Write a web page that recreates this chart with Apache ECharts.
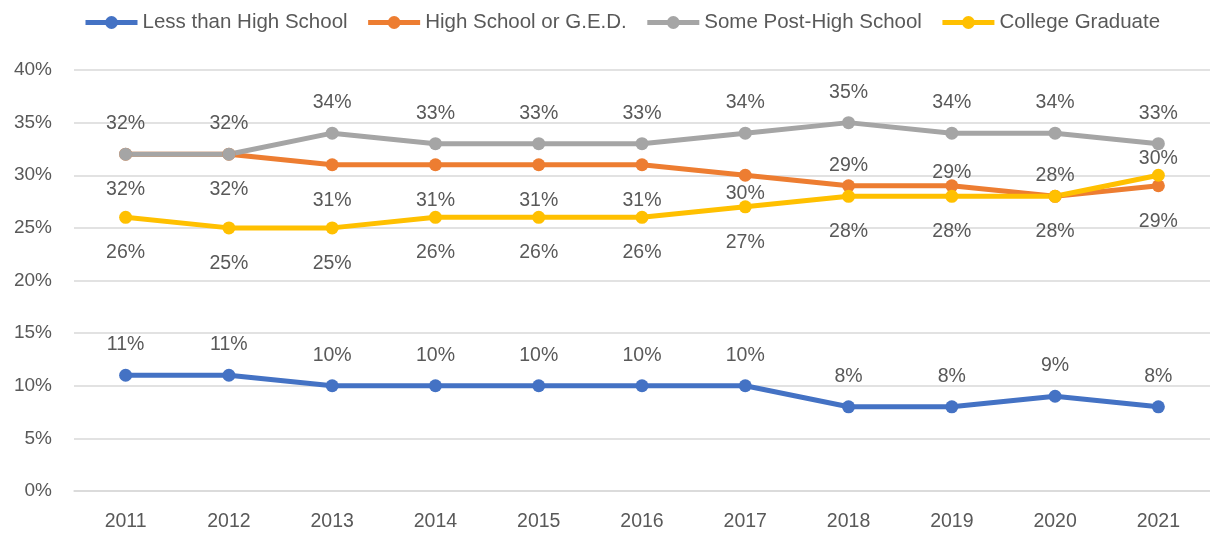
<!DOCTYPE html>
<html>
<head>
<meta charset="utf-8">
<script src="https://cdn.jsdelivr.net/npm/echarts@6/dist/echarts.min.js"></script>
<style>
  html, body { margin: 0; padding: 0; background: #fff; }
  #main { width: 1210px; height: 533px; }
</style>
</head>
<body>
<div id="main"></div>
<script>
// data
const years = ['2011', '2012', '2013', '2014', '2015', '2016', '2017', '2018', '2019', '2020', '2021'];
const lessThanHS = [11, 11, 10, 10, 10, 10, 10, 8, 8, 9, 8];
const hsGed = [32, 32, 31, 31, 31, 31, 30, 29, 29, 28, 29];
const somePostHS = [32, 32, 34, 33, 33, 33, 34, 35, 34, 34, 33];
const collegeGrad = [26, 25, 25, 26, 26, 26, 27, 28, 28, 28, 30];

const textColor = '#595959';
const font = 'Liberation Sans';

// labels above the point unless placed otherwise
function withLabels(values, pos, tweaks) {
  return values.map((v, i) => {
    const t = (tweaks && tweaks[i]) || {};
    return {
      value: v,
      label: {
        position: t.position || pos,
        distance: t.distance !== undefined ? t.distance : (pos === 'top' ? 14 : 19)
      }
    };
  });
}

function makeSeries(name, color, data) {
  return {
    name: name,
    type: 'line',
    data: data,
    symbol: 'circle',
    symbolSize: 13,
    lineStyle: { color: color, width: 5 },
    itemStyle: { color: color },
    label: {
      show: true,
      color: textColor,
      fontFamily: font,
      fontSize: 19.5,
      formatter: p => p.value + '%'
    }
  };
}

let myChart = echarts.init(document.getElementById('main'));
myChart.setOption({
  animation: false,
  backgroundColor: '#fff',
  color: ['#4472C4', '#ED7D31', '#A5A5A5', '#FFC000'],
  legend: {
    top: 7,
    left: 78,
    itemWidth: 52,
    itemHeight: 16,
    itemGap: 18,
    lineStyle: { width: 5 },
    textStyle: { color: textColor, fontFamily: font, fontSize: 20.5 },
    data: ['Less than High School', 'High School or G.E.D.', 'Some Post-High School', 'College Graduate']
  },
  grid: { left: 74, right: -6, top: 70, bottom: 42, containLabel: false },
  xAxis: {
    type: 'category',
    data: years,
    axisLine: { lineStyle: { color: '#D9D9D9', width: 1.5 } },
    axisTick: { show: false },
    axisLabel: { color: textColor, fontFamily: font, fontSize: 19.5, margin: 21 }
  },
  yAxis: {
    type: 'value',
    min: 0,
    max: 40,
    interval: 5,
    axisLine: { show: false },
    axisTick: { show: false },
    axisLabel: { color: textColor, fontFamily: font, fontSize: 19, margin: 22, formatter: '{value}%' },
    splitLine: { lineStyle: { color: '#D9D9D9', width: 1.5 } }
  },
  series: [
    makeSeries('Less than High School', '#4472C4', withLabels(lessThanHS, 'top')),
    makeSeries('High School or G.E.D.', '#ED7D31', withLabels(hsGed, 'bottom', {
      6: { distance: 2 },
      7: { position: 'top', distance: 4 },
      8: { position: 'top', distance: -3 },
      9: { position: 'top', distance: 4 }
    })),
    makeSeries('Some Post-High School', '#A5A5A5', withLabels(somePostHS, 'top')),
    makeSeries('College Graduate', '#FFC000', withLabels(collegeGrad, 'bottom', {
      10: { position: 'top', distance: 0 }
    }))
  ]
});
</script>
</body>
</html>
